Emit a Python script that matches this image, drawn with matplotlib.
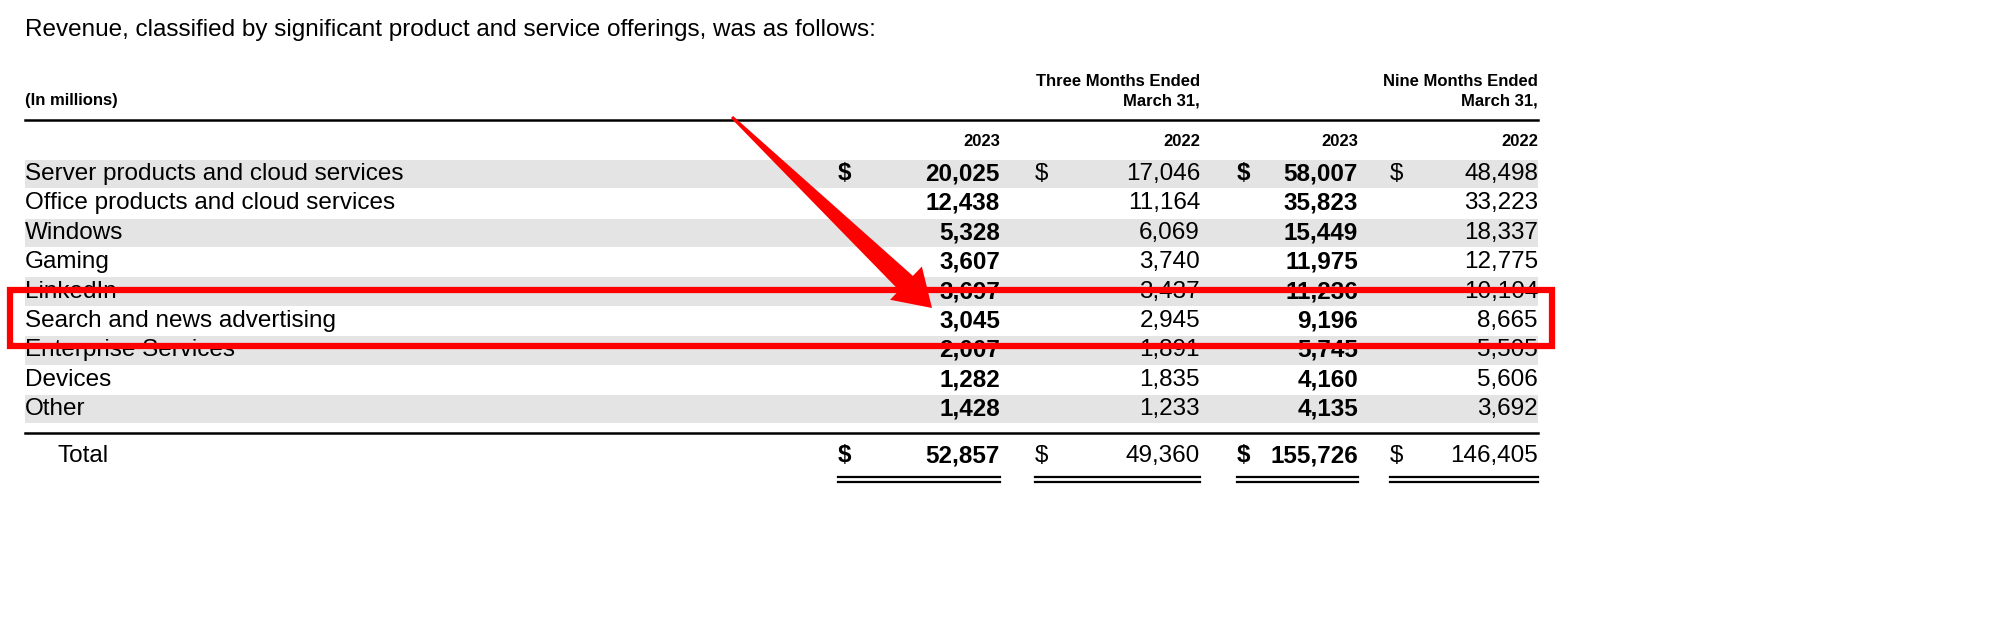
import matplotlib.pyplot as plt
from matplotlib.patches import Rectangle, Polygon
import numpy as np

plt.rcParams['font.family'] = 'Liberation Sans'

categories = ["Server products and cloud services", "Office products and cloud services",
              "Windows", "Gaming", "LinkedIn", "Search and news advertising",
              "Enterprise Services", "Devices", "Other"]
q3_2023 = [20025, 12438, 5328, 3607, 3697, 3045, 2007, 1282, 1428]
q3_2022 = [17046, 11164, 6069, 3740, 3437, 2945, 1891, 1835, 1233]
ytd_2023 = [58007, 35823, 15449, 11975, 11236, 9196, 5745, 4160, 4135]
ytd_2022 = [48498, 33223, 18337, 12775, 10104, 8665, 5505, 5606, 3692]
totals = [52857, 49360, 155726, 146405]
years = ["2023", "2022", "2023", "2022"]

fig = plt.figure(figsize=(20, 6.35), dpi=100)
ax = fig.add_axes([0, 0, 1, 1])
ax.set_xlim(0, 2000)
ax.set_ylim(635, 0)
ax.axis('off')

fs = 17.5
col_right = [1000, 1200, 1358, 1538]
col_dollar = [838, 1035, 1237, 1390]
bold = [True, False, True, False]
row_y0 = 174
row_h = 29.4

ax.text(25, 30, "Revenue, classified by significant product and service offerings, was as follows:",
        fontsize=fs, va='center')
ax.text(25, 101, "(In millions)", fontsize=12, fontweight='bold', va='center')
for x, lab in [(1200, "Three Months Ended\nMarch 31,"), (1538, "Nine Months Ended\nMarch 31,")]:
    ax.text(x, 91, lab, fontsize=12, fontweight='bold', ha='right', va='center', linespacing=1.35)
ax.plot([25, 1538], [120, 120], color='black', lw=1.8)
for x, yr in zip(col_right, years):
    ax.text(x, 141, yr, fontsize=12, fontweight='bold', ha='right', va='center')

cols = [q3_2023, q3_2022, ytd_2023, ytd_2022]
for i, cat in enumerate(categories):
    y = row_y0 + i * row_h
    if i % 2 == 0:
        ax.add_patch(Rectangle((25, y - row_h / 2 + 0.5), 1513, row_h - 1, color='#e4e4e4', lw=0, zorder=0))
    ax.text(25, y, cat, fontsize=fs, va='center')
    for j, vals in enumerate(cols):
        ax.text(col_right[j], y, f"{vals[i]:,}", fontsize=fs, va='center', ha='right',
                fontweight='bold' if bold[j] else 'normal')
        if i == 0:
            ax.text(col_dollar[j], y, "$", fontsize=fs, va='center',
                    fontweight='bold' if bold[j] else 'normal')

ax.plot([25, 1538], [433, 433], color='black', lw=1.8)
ax.text(57, 456, "Total", fontsize=fs, va='center')
for j, t in enumerate(totals):
    w = 'bold' if bold[j] else 'normal'
    ax.text(col_right[j], 456, f"{t:,}", fontsize=fs, va='center', ha='right', fontweight=w)
    ax.text(col_dollar[j], 456, "$", fontsize=fs, va='center', fontweight=w)
    left = col_dollar[j]
    for yy in (477, 482):
        ax.plot([left, col_right[j]], [yy, yy], color='black', lw=1.6)

# red highlight box
ax.add_patch(Rectangle((10, 290), 1542, 56, fill=False, edgecolor='#ff0000', lw=4.5, zorder=5))

# tapered red arrow
p0 = np.array([732, 117])
p1 = np.array([932, 308])
d = (p1 - p0) / np.linalg.norm(p1 - p0)
n = np.array([-d[1], d[0]])
base = p1 - d * 36
pts = [p0 + n * 1.5, base + n * 10, base + n * 23, p1, base - n * 23, base - n * 10, p0 - n * 1.5]
ax.add_patch(Polygon(pts, closed=True, color='#ff0000', lw=0, zorder=6))

fig.savefig("out.png", dpi=100)
